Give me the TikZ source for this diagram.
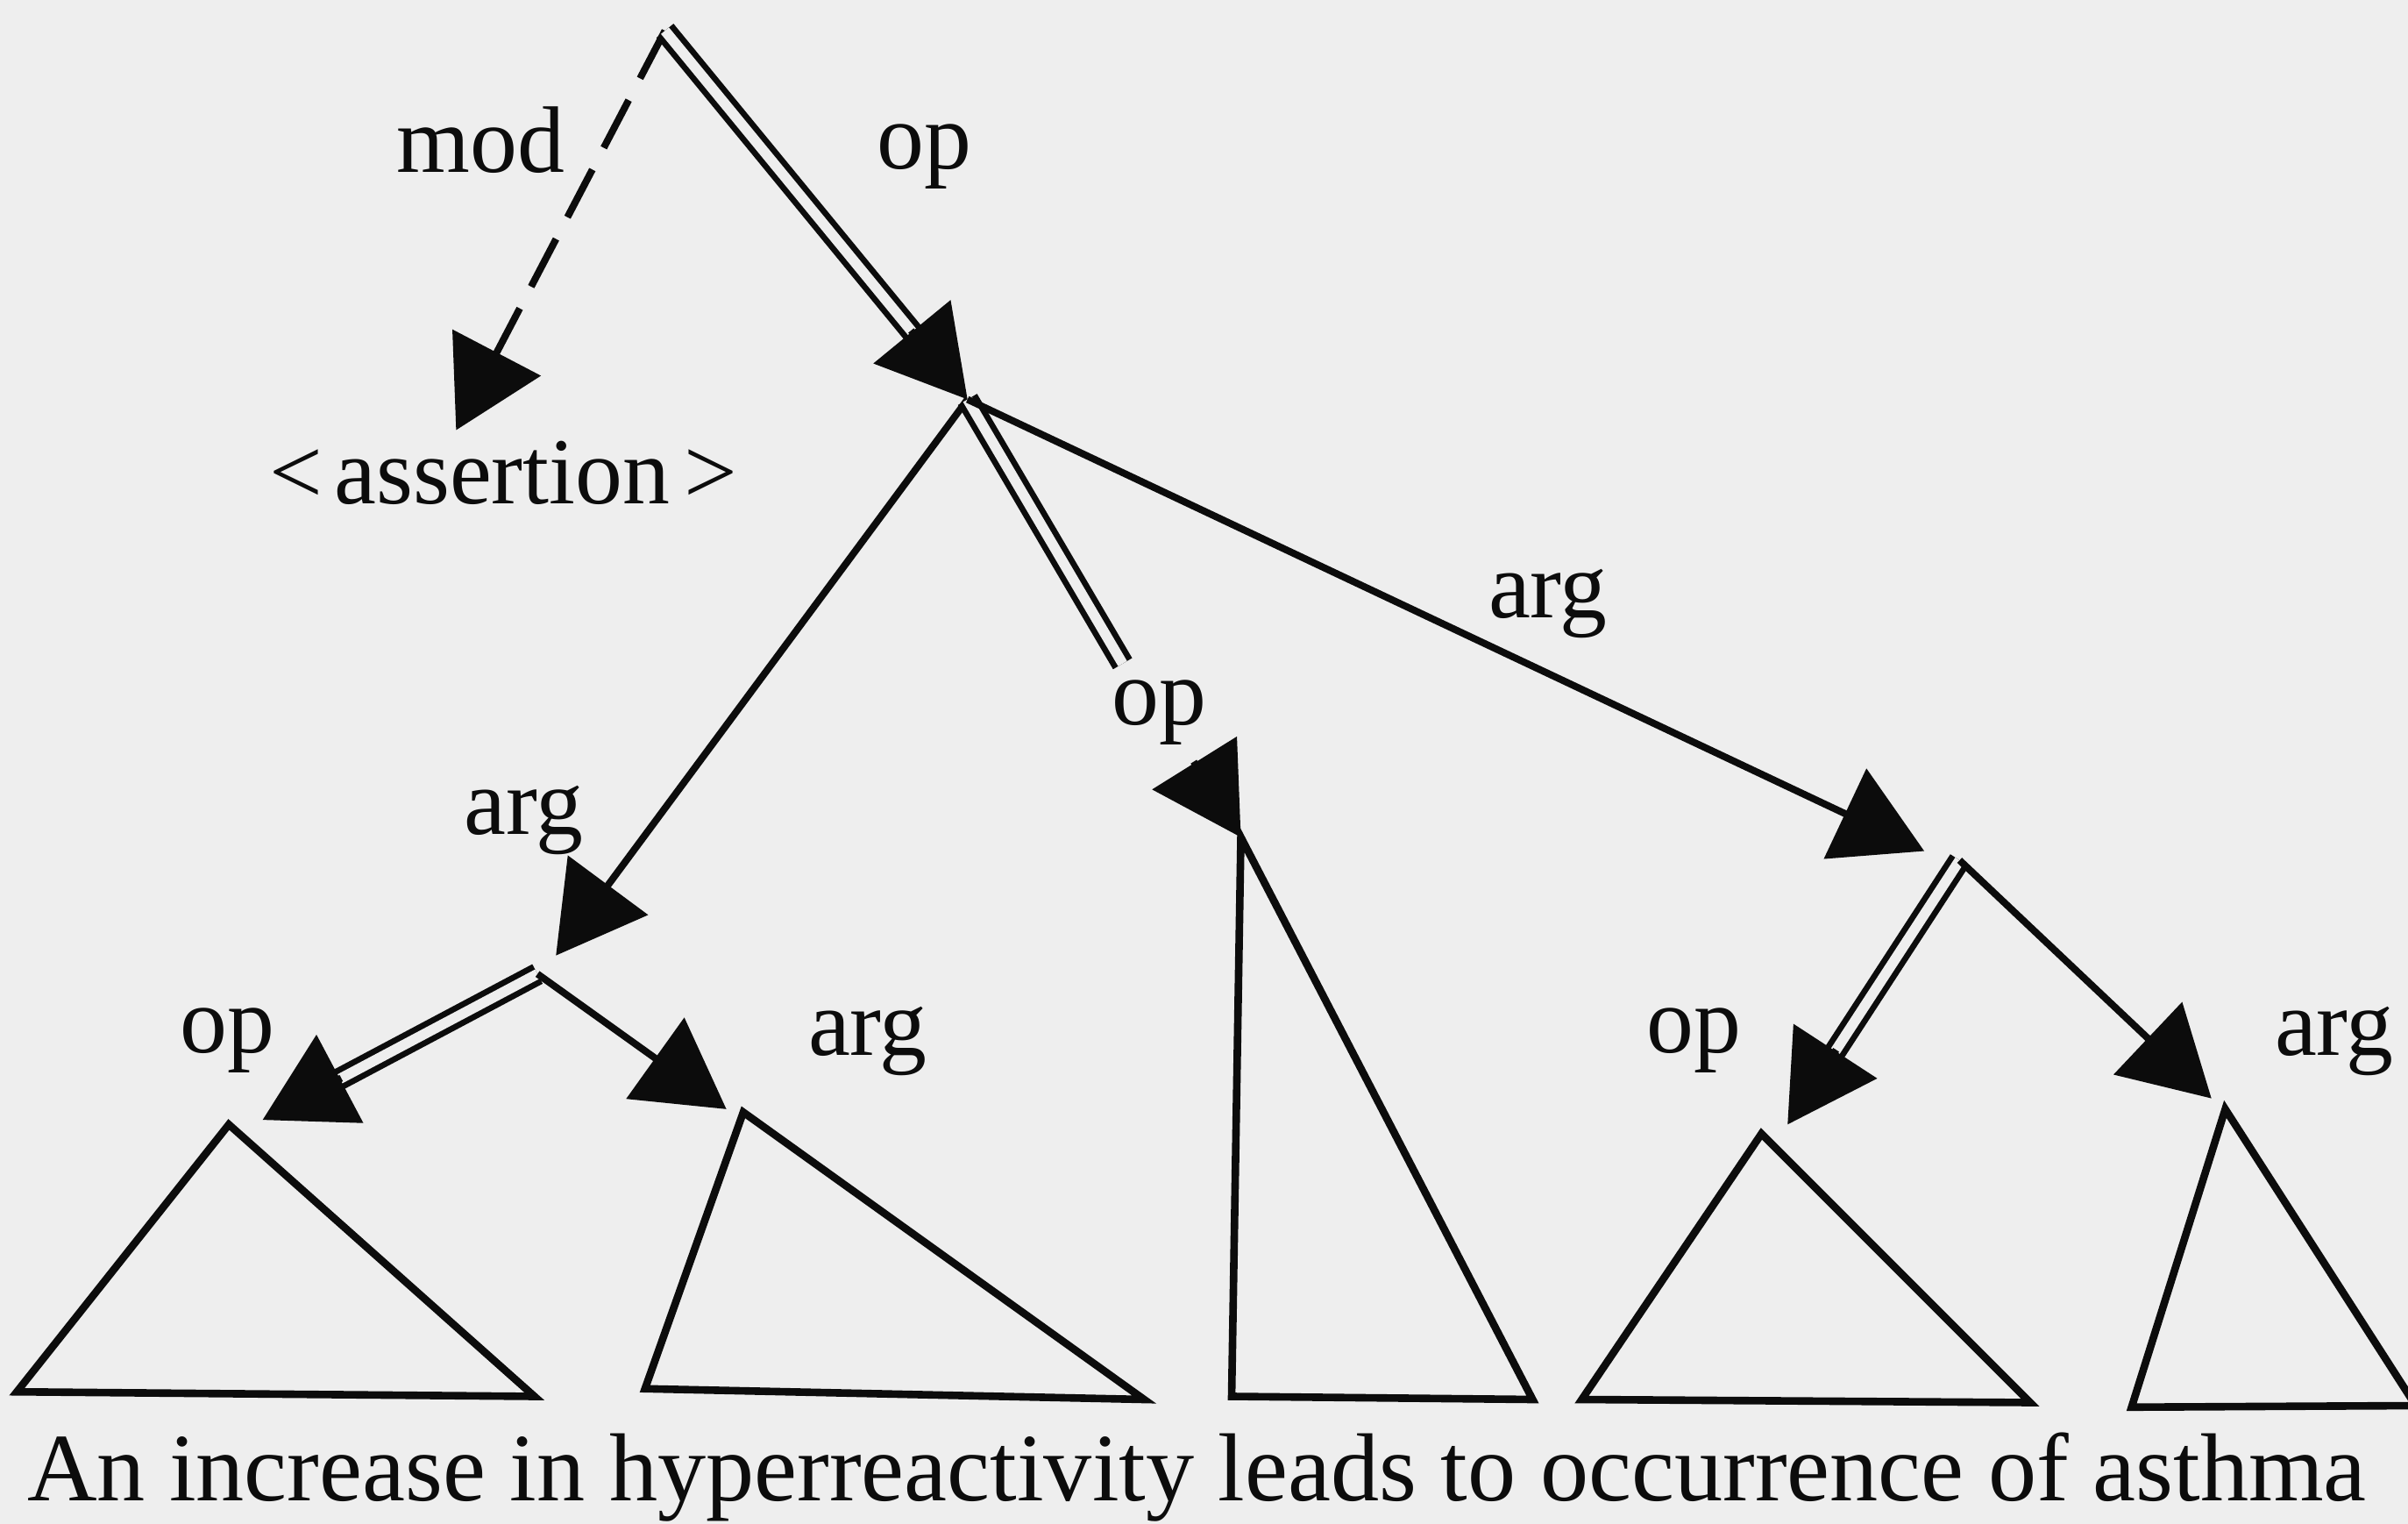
\documentclass[tikz,border=0pt]{standalone}
\usepackage{fontspec}
\setmainfont{Liberation Serif}
\usetikzlibrary{arrows.meta,calc}
\definecolor{paper}{RGB}{238,238,238}
\definecolor{ink}{RGB}{12,12,12}
\begin{document}
\begin{tikzpicture}[x=0.1mm,y=-0.1mm,
  ln/.style={draw=ink, line width=1.3pt},
  dbl/.style={draw=ink, line width=1.1pt, double=paper, double distance=1.9pt},
  tip/.style={ln, -{Triangle[length=5.7mm,width=6.4mm]}},
  dsh/.style={dash pattern=on 3.5mm off 1.6mm},
  tri/.style={ln, line width=1.4pt, line join=miter},
  lbl/.style={anchor=base, inner sep=0pt, font=\fontsize{17.5}{20}\selectfont, text=ink},
]
\fill[paper] (0,0) rectangle (1568,992);
\useasboundingbox (0,0) rectangle (1568,992);

% junction points and arrow tips
\coordinate (T) at (433,20);
\coordinate (D) at (297,280);
\coordinate (B1) at (630,260);
\coordinate (L1) at (362,622);
\coordinate (B2) at (350,634);
\coordinate (OP1) at (171,729);
\coordinate (AR1) at (473,722);
\coordinate (E) at (731,432);
\coordinate (M) at (808,545);
\coordinate (AR2) at (1253,554);
\coordinate (B3) at (1276,560);
\coordinate (OP3) at (1164,732);
\coordinate (AR3) at (1440,715);

% triangles
\coordinate (t1a) at (149,732); \coordinate (t1l) at (11,906);  \coordinate (t1r) at (348,909);
\coordinate (t2a) at (484,724); \coordinate (t2l) at (420,904); \coordinate (t2r) at (745,911);
\coordinate (t3l) at (802,909); \coordinate (t3r) at (998,911);
\coordinate (t4a) at (1147,738); \coordinate (t4l) at (1030,911); \coordinate (t4r) at (1322,913);
\coordinate (t5a) at (1449,722); \coordinate (t5l) at (1388,916); \coordinate (t5r) at (1573,915);

\draw[tri] (t1a) -- (t1l) -- (t1r) -- cycle;
\draw[tri] (t2a) -- (t2l) -- (t2r) -- cycle;
\draw[tri] (M) -- (t3l) -- (t3r) -- cycle;
\draw[tri] (t4a) -- (t4l) -- (t4r) -- cycle;
\draw[tri] (t5a) -- (t5l) -- (t5r) -- cycle;

% top
\draw[tip, dsh] (T) -- (D);
\draw[dbl, shorten >=5.3mm] (T) -- (B1);
\draw[tip] ($(B1)!5.8mm!(T)$) -- (B1);

% from B1
\draw[tip] (B1) -- (L1);
\draw[dbl] (B1) -- (E);
\draw[tip] ($(M)!5.8mm!(B1)$) -- (M);
\draw[tip] (B1) -- (AR2);

% from B2
\draw[dbl, shorten >=5.3mm] (B2) -- (OP1);
\draw[tip] ($(OP1)!5.8mm!(B2)$) -- (OP1);
\draw[tip] (B2) -- (AR1);

% from B3
\draw[dbl, shorten >=5.3mm] (B3) -- (OP3);
\draw[tip] ($(OP3)!5.8mm!(B3)$) -- (OP3);
\draw[tip] (B3) -- (AR3);

% labels
\node[lbl] (lmod) at (313,112) {mod};
\node[lbl] (lop0) at (602,110) {op};
\node[lbl] (lass) at (328,328) {<\hspace{0.12em}assertion\hspace{0.15em}>};
\node[lbl] (larg1) at (1008,402) {arg};
\node[lbl] (lop1) at (755,472) {op};
\node[lbl] (larg0) at (341,543) {arg};
\node[lbl] (lop2) at (148,685) {op};
\node[lbl] (larg2) at (565,687) {arg};
\node[lbl] (lop3) at (1103,685) {op};
\node[lbl] (larg3) at (1520,687) {arg};

\node[anchor=base west, inner sep=0pt, font=\fontsize{17.9}{22}\selectfont, text=ink] (sent) at (17,977)
  {An increase in hyperreactivity leads to occurrence of asthma};
\end{tikzpicture}
\end{document}
